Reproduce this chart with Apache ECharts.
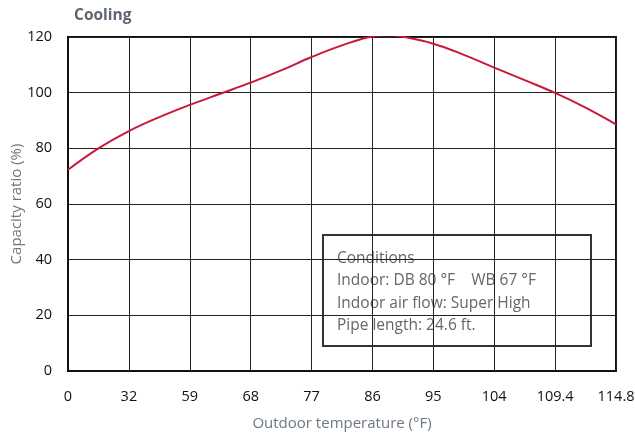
<!DOCTYPE html>
<html>
<head>
<meta charset="utf-8">
<script src="https://cdn.jsdelivr.net/npm/echarts@6/dist/echarts.min.js"></script>
<style>html,body{margin:0;padding:0;background:#fff}#c{width:635px;height:436px}</style>
</head>
<body>
<div id="c"></div>
<script>
var titleText = 'Cooling';
var xTickLabels = ['0', '32', '59', '68', '77', '86', '95', '104', '109.4', '114.8'];
var yTicks = [0, 20, 40, 60, 80, 100, 120];
// curve sample positions (in tick-slot units along the evenly spaced temperature axis)
var xPos = [0, 0.5, 1, 1.5, 2, 2.5, 3, 3.5, 4, 4.5, 5, 5.26, 5.5, 6, 6.5, 7, 7.5, 8, 8.5, 9];
var capacity = [72.3, 80, 86.2, 91.2, 95.6, 99.6, 103.6, 108, 112.8, 117, 120.2, 120.6, 120.1, 117.6, 113.6, 109, 104.5, 99.9, 94.6, 88.6];
var conditionLines = ['Conditions', 'Indoor: DB 80 \u00b0F    WB 67 \u00b0F', 'Indoor air flow: Super High', 'Pipe length: 24.6 ft.'];
var xName = 'Outdoor temperature (\u00b0F)';
var yName = 'Capacity ratio (%)';

var font = '"Open Sans", "Noto Sans", sans-serif';
var chart = echarts.init(document.getElementById('c'), null, {renderer: 'canvas'});
var pts = xPos.map(function (x, i) { return [x, capacity[i]]; });
chart.setOption({
  animation: false,
  title: {
    text: titleText, left: 69, top: 3,
    textStyle: {fontFamily: font, fontSize: 15.5, fontWeight: 'bold', color: '#5d6670'}
  },
  grid: {left: 68, right: 19, top: 37, bottom: 65, show: true, borderColor: '#111', borderWidth: 2,
    containLabel: false, outerBoundsMode: 'none'},
  xAxis: {
    type: 'value', min: 0, max: xTickLabels.length - 1, interval: 1,
    name: xName, nameLocation: 'middle', nameGap: 45,
    nameTextStyle: {fontFamily: font, fontSize: 15, color: '#6b7782'},
    axisLine: {show: true, lineStyle: {color: '#111', width: 2}},
    axisTick: {show: false},
    axisLabel: {fontFamily: font, fontSize: 14.5, color: '#111', margin: 18,
      formatter: function (v) { return xTickLabels[Math.round(v)]; }},
    splitLine: {show: true, lineStyle: {color: '#222', width: 1}}
  },
  yAxis: {
    type: 'value', min: yTicks[0], max: yTicks[yTicks.length - 1], interval: 20,
    axisLine: {show: true, lineStyle: {color: '#111', width: 2}},
    axisTick: {show: false},
    axisLabel: {fontFamily: font, fontSize: 14.5, color: '#111', margin: 16},
    splitLine: {show: true, lineStyle: {color: '#222', width: 1}}
  },
  series: [{
    type: 'line', data: pts, smooth: 0.4, showSymbol: false,
    lineStyle: {color: '#c8193c', width: 2}, z: 5
  }],
  graphic: [{
    type: 'text', x: 17, y: 204, rotation: Math.PI / 2,
    style: {text: yName, fill: '#6b7782', font: '15px ' + font, align: 'center', verticalAlign: 'middle'}
  }, {
    type: 'group', left: 322, top: 234, z: 10,
    children: [
      {type: 'rect', shape: {x: 0, y: 0, width: 268, height: 111},
        style: {fill: '#fff', stroke: '#333', lineWidth: 2}},
      {type: 'text', x: 14, y: 12,
        style: {text: conditionLines.join('\n'), fill: '#666', font: '15.5px ' + font, lineHeight: 22.5}}
    ]
  }]
});
</script>
</body>
</html>
